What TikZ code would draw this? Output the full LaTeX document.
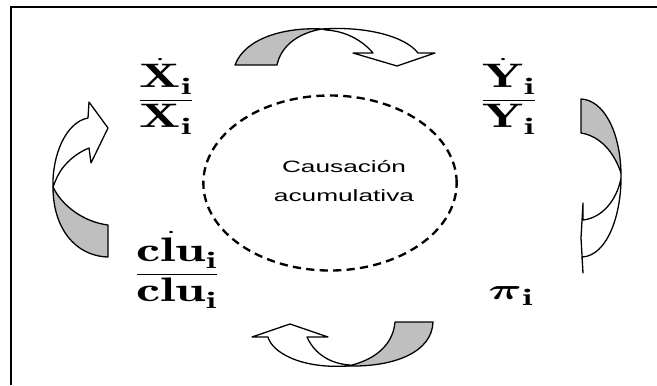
\documentclass[tikz,border=0pt]{standalone}
\usepackage{amsmath}
\usepackage{graphicx}
\usepackage{fontspec}
\setsansfont{Liberation Sans}
\usetikzlibrary{shapes.geometric}

\newcommand{\stretchx}[1]{\scalebox{1.6}[1]{#1}}

\begin{document}
\begin{tikzpicture}[
        x=0.03cm, y=-0.03cm,
        frameline/.style={line width=1.7pt},
        tailpart/.style={draw, line width=1.1pt, fill=black!25, line join=round},
        headpart/.style={draw, line width=1.1pt, fill=white, line join=round},
        ratio/.style={inner sep=0pt, font=\fontsize{29}{34}\selectfont},
        loopring/.style={draw, ellipse, dash pattern=on 7pt off 4.5pt, line width=2pt,
            minimum width=7.6cm, minimum height=5.25cm},
        cause/.style={align=center, inner sep=0pt,
            font=\sffamily\fontsize{14}{24}\selectfont}
    ]
    \useasboundingbox (0,0) rectangle (657,385);

    % marco
    \draw[frameline] (11,385) -- (11,7) -- (657,7);

    % circulo central
    \node[loopring] (ring) at (330,183) {};
    \node[cause] (causa) at (344,181) {\stretchx{Causación}\\\stretchx{acumulativa}};

    % variables
    \node[ratio] (xrate) at (166,96)
        {\stretchx{$\dfrac{\dot{\mathbf{X}}_{\mathbf{i}}}{\mathbf{X}_{\mathbf{i}}}$}};
    \node[ratio] (yrate) at (509,96)
        {\stretchx{$\dfrac{\dot{\mathbf{Y}}_{\mathbf{i}}}{\mathbf{Y}_{\mathbf{i}}}$}};
    \node[ratio] (clurate) at (177,270)
        {\stretchx{$\dfrac{\dot{\mathbf{clu}}_{\mathbf{i}}}{\mathbf{clu}_{\mathbf{i}}}$}};
    \node[ratio] (profit) at (511,296)
        {\stretchx{$\boldsymbol{\pi}_{\mathbf{i}}$}};

    % flecha superior
    \draw[headpart] (322,29) .. controls (365,26) and (405,36) .. (418,53)
        -- (435,53) -- (397,66) -- (353,53) -- (373,53)
        .. controls (362,40) and (345,31) .. (326,30) -- cycle;
    \draw[tailpart] (235,65) .. controls (245,38) and (285,27) .. (322,29)
        .. controls (298,33) and (281,46) .. (277,65) -- cycle;

    % flecha derecha
    \draw[headpart] (621,173) .. controls (622,215) and (607,256) .. (582,257)
        -- (583,273) -- (581,238) -- (583,203) -- (583,220)
        .. controls (602,218) and (617,200) .. (621,178) -- cycle;
    \draw[tailpart] (581,99) .. controls (603,100) and (620,130) .. (621,173)
        .. controls (614,152) and (600,136) .. (581,133) -- cycle;

    % flecha inferior
    \draw[headpart] (348,366) .. controls (300,369) and (272,352) .. (268,337)
        -- (252,337) -- (290,324) -- (328,337) -- (307,337)
        .. controls (315,355) and (332,364) .. (350,365) -- cycle;
    \draw[tailpart] (395,322) -- (433,322) .. controls (432,352) and (395,367) .. (348,366)
        .. controls (375,360) and (393,345) .. (395,322) -- cycle;

    % flecha izquierda
    \draw[headpart] (53,187) .. controls (52,155) and (66,122) .. (88,118)
        -- (89,102) -- (108,128) -- (91,163) -- (89,148)
        .. controls (72,155) and (60,168) .. (55,182) -- cycle;
    \draw[tailpart] (108,257) .. controls (75,256) and (53,228) .. (53,187)
        .. controls (62,206) and (84,222) .. (108,225) -- cycle;
\end{tikzpicture}
\end{document}
